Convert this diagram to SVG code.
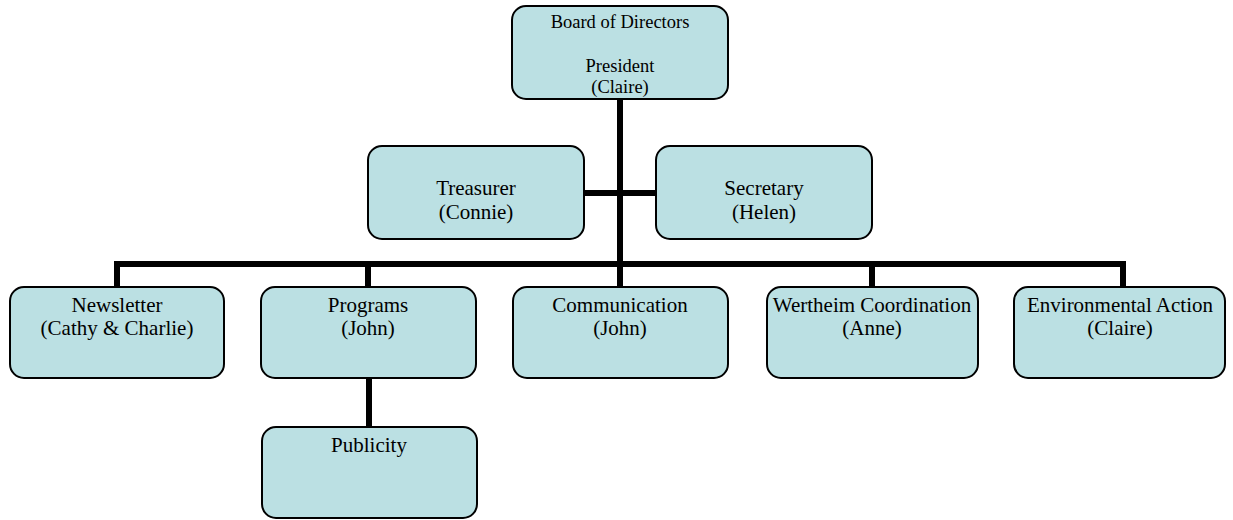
<svg xmlns="http://www.w3.org/2000/svg" width="1233" height="520" viewBox="0 0 1233 520">
<style>
.box{fill:#bbe0e3;stroke:#000;stroke-width:2}
.t{font-family:"Liberation Serif",serif;font-size:21px;fill:#000;text-anchor:middle}
.ts{font-family:"Liberation Serif",serif;font-size:18.5px;fill:#000;text-anchor:middle}
.c{stroke:#000;stroke-width:6;fill:none}
</style>
<g id="connectors">
<line class="c" x1="620" y1="99" x2="620" y2="288"/>
<line class="c" x1="583" y1="193" x2="657" y2="193"/>
<polyline class="c" points="117,288 117,264 1123,264 1123,288"/>
<line class="c" x1="368" y1="264" x2="368" y2="288"/>
<line class="c" x1="872" y1="264" x2="872" y2="288"/>
<line class="c" x1="369" y1="377" x2="369" y2="428"/>
</g>
<g id="board">
<rect class="box" x="512" y="6" width="216" height="93" rx="14"/>
<text class="ts" x="620" y="28">Board of Directors</text>
<text class="ts" x="620" y="72">President</text>
<text class="ts" x="620" y="93">(Claire)</text>
</g>
<g id="treasurer">
<rect class="box" x="368" y="146" width="216" height="93" rx="14"/>
<text class="t" x="476" y="195">Treasurer</text>
<text class="t" x="476" y="219">(Connie)</text>
</g>
<g id="secretary">
<rect class="box" x="656" y="146" width="216" height="93" rx="14"/>
<text class="t" x="764" y="195">Secretary</text>
<text class="t" x="764" y="219">(Helen)</text>
</g>
<g id="newsletter">
<rect class="box" x="10" y="287" width="214" height="91" rx="14"/>
<text class="t" x="117" y="312">Newsletter</text>
<text class="t" x="117" y="335">(Cathy &amp; Charlie)</text>
</g>
<g id="programs">
<rect class="box" x="261" y="287" width="215" height="91" rx="14"/>
<text class="t" x="368" y="312">Programs</text>
<text class="t" x="368" y="335">(John)</text>
</g>
<g id="communication">
<rect class="box" x="513" y="287" width="215" height="91" rx="14"/>
<text class="t" x="620" y="312">Communication</text>
<text class="t" x="620" y="335">(John)</text>
</g>
<g id="wertheim">
<rect class="box" x="767" y="287" width="211" height="91" rx="14"/>
<text class="t" x="872" y="312">Wertheim Coordination</text>
<text class="t" x="872" y="335">(Anne)</text>
</g>
<g id="environmental">
<rect class="box" x="1014" y="287" width="211" height="91" rx="14"/>
<text class="t" x="1120" y="312">Environmental Action</text>
<text class="t" x="1120" y="335">(Claire)</text>
</g>
<g id="publicity">
<rect class="box" x="262" y="427" width="215" height="91" rx="14"/>
<text class="t" x="369" y="452">Publicity</text>
</g>
</svg>
